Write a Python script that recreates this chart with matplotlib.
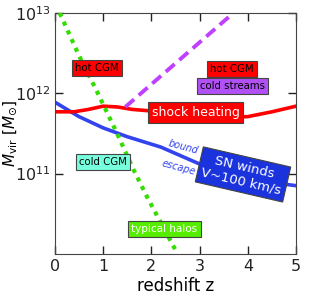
import matplotlib
matplotlib.use('Agg')
import matplotlib.pyplot as plt
import numpy as np

# log10(Mvir / Msun)
z_halo = [0.1, 0.5, 0.875, 1.29, 1.63, 1.92, 2.5]
m_halo = [13.0, 12.47, 12.02, 11.5, 11.05, 10.7, 10.05]

z_stream = [1.46, 3.7]
m_stream = [11.83, 13.0]

z_shock = [0.0, 0.4, 0.7, 1.0, 1.3, 1.6, 2.0, 2.5, 3.0, 3.5, 4.0, 4.5, 5.0]
m_shock = [11.77, 11.77, 11.80, 11.84, 11.83, 11.80, 11.78, 11.74, 11.72, 11.70, 11.71, 11.77, 11.84]

z_sn = [0.0, 0.5, 1.0, 1.5, 2.2, 3.0, 4.0, 4.75, 5.0]
m_sn = [11.89, 11.71, 11.57, 11.46, 11.33, 11.12, 10.96, 10.87, 10.85]

fig = plt.figure(figsize=(3.10, 3.02), dpi=100)
ax = fig.add_axes([0.177, 0.159, 0.778, 0.798])

ax.plot(z_sn, 10**np.array(m_sn), color='#3344ee', lw=2.6, zorder=2)
ax.plot(z_shock, 10**np.array(m_shock), color='#ff0000', lw=2.6, zorder=2)
ax.plot(z_stream, 10**np.array(m_stream), color='#c040ff', lw=2.8, ls=(0, (3, 1.6)), zorder=3)
ax.plot(z_halo, 10**np.array(m_halo), color='#33dd00', lw=3, ls=(0, (1, 1.3)), zorder=3)

ax.set_yscale('log')
ax.set_xlim(0, 5)
ax.set_ylim(1e10, 1e13)
ax.set_xticks([0, 1, 2, 3, 4, 5])
ax.set_yticks([1e11, 1e12, 1e13])
ax.set_yticklabels(['10$^{11}$', '10$^{12}$', '10$^{13}$'])
ax.minorticks_off()
ax.tick_params(direction='in', length=6, width=1, top=True, right=True, labelsize=11.5, colors='#222222')
ax.tick_params(axis='y', pad=3)
for s in ax.spines.values():
    s.set_color('#444444')
ax.set_xlabel('redshift z', fontsize=12, labelpad=2)
ax.set_ylabel(r'$M_{\rm vir}\ [M_{\odot}]$', fontsize=11)
ax.yaxis.set_label_coords(-0.15, 0.5)

def box(x, y, txt, fc, tc='black', fs=7.3, rot=0):
    ax.text(x, 10**y, txt, ha='center', va='center', fontsize=fs, color=tc, rotation=rot,
            bbox=dict(boxstyle='square,pad=0.3', fc=fc, ec='#444444', lw=0.8), zorder=5)

box(0.875, 12.31, 'hot CGM', '#ff0000')
box(3.67, 12.30, 'hot CGM', '#ff0000')
box(3.68, 12.09, 'cold streams', '#b050f5')
box(2.92, 11.76, 'shock heating', '#ff0000', tc='white', fs=9)
box(1.0, 11.14, 'cold CGM', '#77ffdd')
box(2.27, 10.31, 'typical halos', '#55ee00', tc='white', fs=7.5)
box(3.9, 10.99, 'SN winds\nV~100 km/s', '#1a33dd', tc='white', fs=9.5, rot=-13)

ax.text(2.67, 10**11.33, 'bound', color='#3344ee', fontsize=7, style='italic',
        ha='center', va='center', rotation=-15)
ax.text(2.56, 10**11.08, 'escape', color='#3344ee', fontsize=7, style='italic',
        ha='center', va='center', rotation=-15)

fig.savefig('out.png', dpi=100)
